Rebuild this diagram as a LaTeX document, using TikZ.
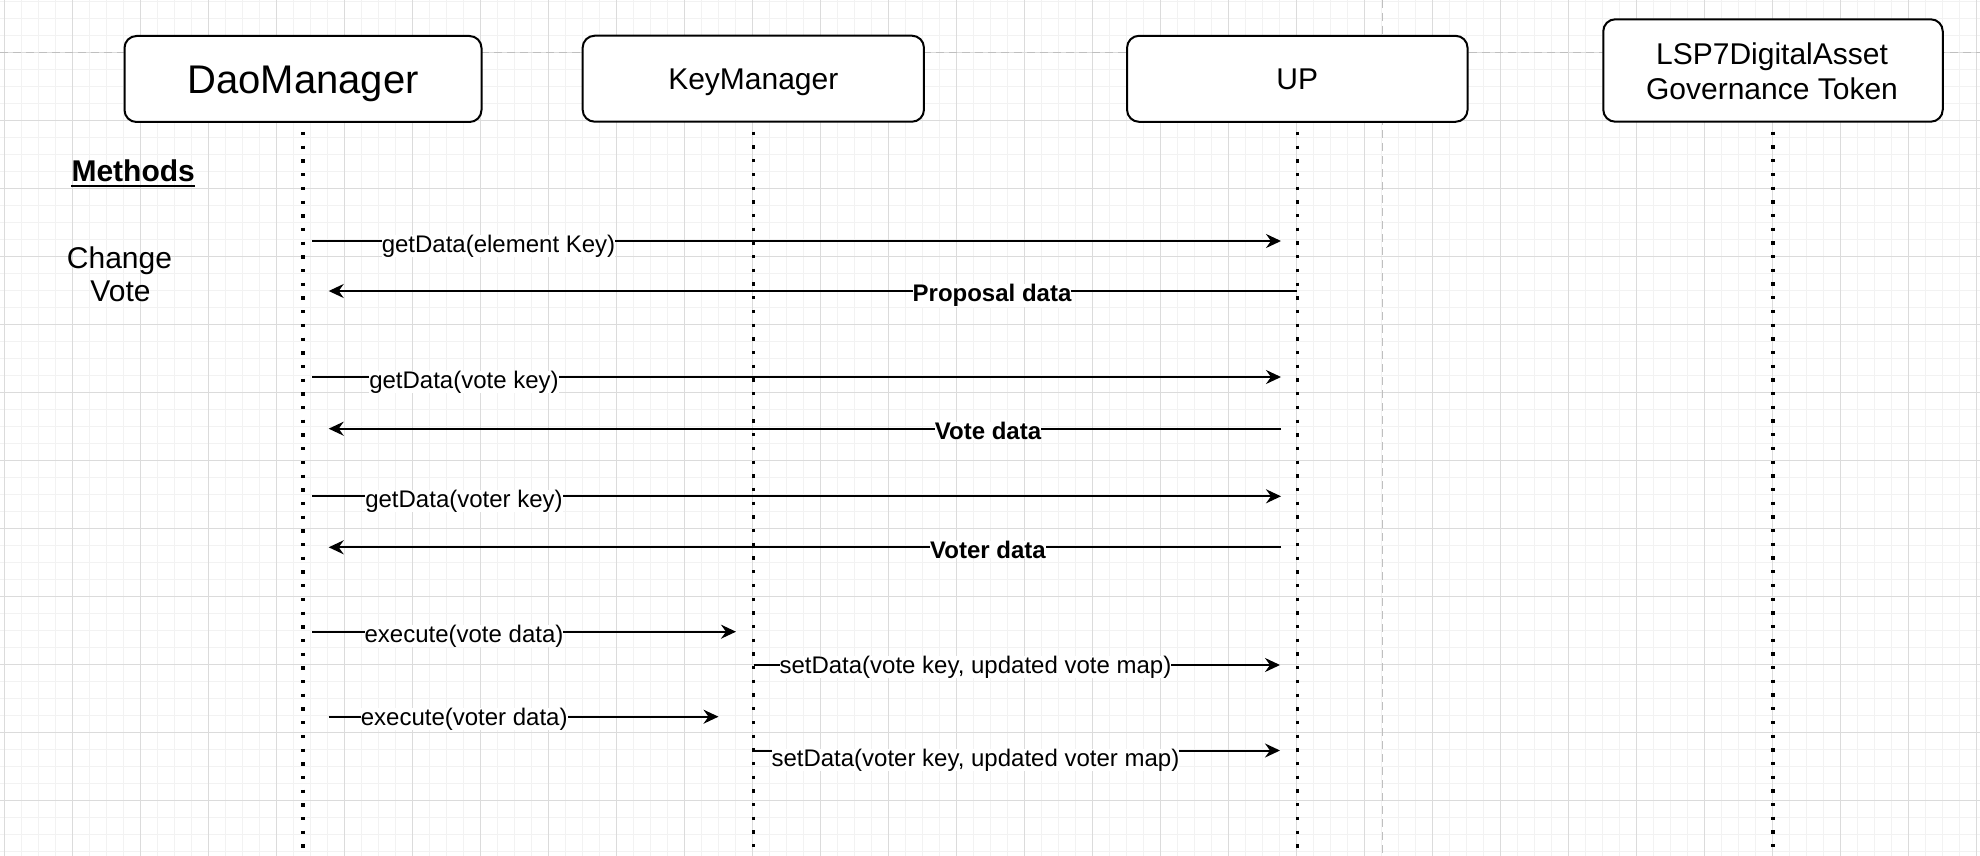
\documentclass[tikz,border=0pt]{standalone}
\usepackage{fontspec}
\setmainfont{Liberation Sans}
\usetikzlibrary{arrows.meta,calc}
\tikzset{
  minorgrid/.style={draw=black!5, line width=1.5pt},
  majorgrid/.style={draw=black!14, line width=1pt},
  guide/.style={draw=black!25, line width=1.5pt, dash pattern=on 8pt off 5pt},
  actor/.style={draw=black, line width=2pt, rounded corners=12pt, fill=white, inner sep=0pt, minimum height=86pt, text depth=0pt},
  lifeline/.style={draw=black, line width=3.3pt, dash pattern=on 3.3pt off 10.4pt},
  msg/.style={draw=black, line width=2pt, -{Stealth[length=15pt,width=14pt,inset=5pt]}},
  lbl/.style={fill=white, inner sep=0pt, anchor=base, font=\fontsize{24}{28}\selectfont},
  blbl/.style={lbl, font=\fontsize{24}{28}\selectfont\bfseries},
  plain/.style={inner sep=0pt, anchor=base, font=\fontsize{30}{36}\selectfont},
}
\begin{document}
\begin{tikzpicture}[x=1pt,y=-1pt]
\useasboundingbox (0,0) rectangle (1980,856);
\fill[white] (0,0) rectangle (1980,856);
% grid
\foreach \i in {0,...,116} {\draw[minorgrid] ({4.3+17*\i},0) -- ({4.3+17*\i},856);}
\foreach \j in {0,...,50} {\draw[minorgrid] (0,{1.3+17*\j}) -- (1980,{1.3+17*\j});}
\foreach \i in {0,...,29} {\draw[majorgrid] ({4.3+68*\i},0) -- ({4.3+68*\i},856);}
\foreach \j in {0,...,11} {\draw[majorgrid] (0,{52.3+68*\j}) -- (1980,{52.3+68*\j});}
% guides
\coordinate (gl) at (0,52.3);
\coordinate (gr) at (1980,52.3);
\coordinate (gt) at (1382.5,0);
\coordinate (gb) at (1382.5,856);
\draw[guide] (gl) -- (gr);
\draw[guide] (gt) -- (gb);

% actors
\node[actor, minimum width=357pt, text height=28.6pt, font=\fontsize{40}{48}\selectfont] (dm) at (303,79) {DaoManager};
\node[actor, minimum width=341.3pt, text height=21.5pt, font=\fontsize{30}{36}\selectfont] (km) at (753.3,78.7) {KeyManager};
\node[actor, minimum width=340.5pt, text height=21.5pt, font=\fontsize{30}{36}\selectfont] (up) at (1297.3,78.8) {UP};
\node[actor, minimum width=339.5pt, minimum height=102.4pt] (lsp) at (1773,70.5) {};
\node[plain] (lspa) at (1772,64.3) {LSP7DigitalAsset};
\node[plain] (lspb) at (1772,99.3) {Governance Token};

% lifelines
\coordinate (bottom) at (0,858);
\draw[lifeline] ($(dm.south)+(0,9)$) -- (dm.south |- bottom);
\draw[lifeline] ($(km.south)+(0,9)$) -- (km.south |- bottom);
\draw[lifeline] ($(up.south)+(0,9)$) -- (up.south |- bottom);
\draw[lifeline] ($(lsp.south)+(0,9)$) -- (lsp.south |- bottom);

% left texts
\node[plain, font=\fontsize{30}{36}\selectfont\bfseries] (meth) at (133.2,181.7) {Methods};
\draw[line width=2pt] ($(meth.base west)+(0,4)$) -- ($(meth.base east)+(0,4)$);
\node[plain] (cv1) at (119.5,268.3) {Change};
\node[plain] (cv2) at (120.5,301.7) {Vote};

% messages
\coordinate (m1a) at (312,241);    \coordinate (m1b) at (1281,241);
\coordinate (m2a) at (1297,291);   \coordinate (m2b) at (328.7,291);
\coordinate (m3a) at (312,377);    \coordinate (m3b) at (1281,377);
\coordinate (m4a) at (1281,428.7); \coordinate (m4b) at (328.7,428.7);
\coordinate (m5a) at (312,496.3);  \coordinate (m5b) at (1281,496.3);
\coordinate (m6a) at (1281,547.3); \coordinate (m6b) at (328.7,547.3);
\coordinate (m7a) at (312,631.7);  \coordinate (m7b) at (736,631.7);
\coordinate (m8a) at (753.5,665);  \coordinate (m8b) at (1280,665);
\coordinate (m9a) at (328.5,716.7); \coordinate (m9b) at (718.5,716.7);
\coordinate (m10a) at (753.5,750.5); \coordinate (m10b) at (1280,750.5);

\draw[msg] (m1a) -- (m1b);
\node[lbl] (l1) at (498.5,252) {getData(element Key)};
\draw[msg] (m2a) -- (m2b);
\node[blbl] (l2) at (992,301.7) {Proposal data};
\draw[msg] (m3a) -- (m3b);
\node[lbl] (l3) at (464,388) {getData(vote key)};
\draw[msg] (m4a) -- (m4b);
\node[blbl] (l4) at (988,439.5) {Vote data};
\draw[msg] (m5a) -- (m5b);
\node[lbl] (l5) at (464,507) {getData(voter key)};
\draw[msg] (m6a) -- (m6b);
\node[blbl] (l6) at (988,558) {Voter data};
\draw[msg] (m7a) -- (m7b);
\node[lbl] (l7) at (464,642.5) {execute(vote data)};
\draw[msg] (m8a) -- (m8b);
\node[lbl] (l8) at (975.4,673.3) {setData(vote key, updated vote map)};
\draw[msg] (m9a) -- (m9b);
\node[lbl] (l9) at (464.2,725.5) {execute(voter data)};
\draw[msg] (m10a) -- (m10b);
\node[lbl] (l10) at (975.4,766) {setData(voter key, updated voter map)};
\end{tikzpicture}
\end{document}
